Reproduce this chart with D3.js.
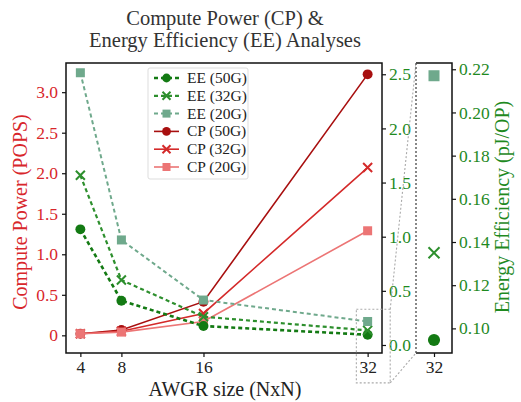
<!DOCTYPE html>
<html>
<head>
<meta charset="utf-8">
<script src="https://cdn.jsdelivr.net/npm/d3@7"></script>
<style>
  html, body { margin: 0; padding: 0; background: #fff; }
  svg { display: block; font-family: "Liberation Serif", "DejaVu Serif", serif; }
</style>
</head>
<body>
<svg id="chart" width="521" height="402"></svg>
<script>
// AWGR sizes (N for an NxN router)
const sizes = [4, 8, 16, 32];

// Compute power in POPS, per line rate
const cp50 = [0.02, 0.065, 0.415, 3.22];
const cp32 = [0.02, 0.05, 0.27, 2.07];
const cp20 = [0.02, 0.04, 0.17, 1.29];

// Energy efficiency in pJ/OP, per line rate
const ee50 = [1.068, 0.409, 0.175, 0.0946];
const ee32 = [1.567, 0.600, 0.261, 0.135];
const ee20 = [2.514, 0.970, 0.415, 0.217];

const cpTicks = [0, 0.5, 1.0, 1.5, 2.0, 2.5, 3.0];
const cpTickLabels = ["0", "0.5", "1.0", "1.5", "2.0", "2.5", "3.0"];
const eeTicks = [0, 0.5, 1.0, 1.5, 2.0, 2.5];
const insetTicks = [0.10, 0.12, 0.14, 0.16, 0.18, 0.20, 0.22];

const titleLines = ["Compute Power (CP) &", "Energy Efficiency (EE) Analyses"];

const svg = d3.select("#chart");

// Panel geometry
const L = 66, R = 382, T = 63, B = 353;
const IL = 416, IR = 452;

const x = d3.scaleLinear().domain([2.6, 33.4]).range([L, R]);
const yCP = d3.scaleLinear().domain([-0.218, 3.36]).range([B, T]);
const yEE = d3.scaleLinear().domain([-0.074, 2.604]).range([B, T]);
const xIn = d3.scaleLinear().domain([31, 33]).range([IL, IR]);
const yIn = d3.scaleLinear().domain([0.0886, 0.2229]).range([B, T]);

const red = "#d8262b", green = "#1f8a1f";

const series = [
  { name: "EE (50G)", vals: ee50, color: "#137a13", marker: "circle", dash: "4,3", width: 2.6, kind: "ee" },
  { name: "EE (32G)", vals: ee32, color: "#2d8f2d", marker: "x", dash: "4,3", width: 2.2, kind: "ee" },
  { name: "EE (20G)", vals: ee20, color: "#6fa98c", marker: "square", dash: "4,3", width: 2.0, kind: "ee" },
  { name: "CP (50G)", vals: cp50, color: "#a80f0f", marker: "circle", dash: null, width: 1.6, kind: "cp" },
  { name: "CP (32G)", vals: cp32, color: "#d42a2a", marker: "x", dash: null, width: 1.6, kind: "cp" },
  { name: "CP (20G)", vals: cp20, color: "#ec7575", marker: "square", dash: null, width: 1.6, kind: "cp" }
];

function drawMarker(g, type, cx, cy, color, size) {
  if (type === "circle") {
    g.append("circle").attr("cx", cx).attr("cy", cy).attr("r", size * 0.55).attr("fill", color);
  } else if (type === "square") {
    const s = size;
    g.append("rect").attr("x", cx - s / 2).attr("y", cy - s / 2).attr("width", s).attr("height", s).attr("fill", color);
  } else {
    const s = size * 0.5;
    g.append("path")
      .attr("d", `M${cx - s},${cy - s}L${cx + s},${cy + s}M${cx - s},${cy + s}L${cx + s},${cy - s}`)
      .attr("stroke", color).attr("stroke-width", 2).attr("fill", "none");
  }
}

// Title
svg.append("g").selectAll("text").data(titleLines).join("text")
  .attr("x", 225).attr("y", (d, i) => 25 + i * 22)
  .attr("text-anchor", "middle").attr("font-size", 20.5).attr("fill", "#333")
  .text(d => d);

// Main plot lines (CP first, EE twin axis drawn on top)
const plot = svg.append("g");
const order = [3, 4, 5, 0, 1, 2];
order.forEach(i => {
  const s = series[i];
  const yS = s.kind === "cp" ? yCP : yEE;
  const line = d3.line().x((d, j) => x(sizes[j])).y(d => yS(d));
  plot.append("path").datum(s.vals).attr("d", line)
    .attr("fill", "none").attr("stroke", s.color).attr("stroke-width", s.width)
    .attr("stroke-dasharray", s.dash);
  const mg = plot.append("g");
  s.vals.forEach((v, j) => drawMarker(mg, s.marker, x(sizes[j]), yS(v), s.color, 9));
});

// Main frame
svg.append("rect").attr("x", L).attr("y", T).attr("width", R - L).attr("height", B - T)
  .attr("fill", "none").attr("stroke", "#111").attr("stroke-width", 1.5);

// Axes
const fs = 17.5;
const xAxis = svg.append("g").attr("transform", `translate(0,${B})`)
  .call(d3.axisBottom(x).tickValues(sizes).tickSize(4).tickPadding(4).tickFormat(d3.format("d")));
const yAxisL = svg.append("g").attr("transform", `translate(${L},0)`)
  .call(d3.axisLeft(yCP).tickValues(cpTicks).tickSize(4).tickPadding(4).tickFormat((d, i) => cpTickLabels[i]));
const yAxisR = svg.append("g").attr("transform", `translate(${R},0)`)
  .call(d3.axisRight(yEE).tickValues(eeTicks).tickSize(4).tickPadding(3).tickFormat(d3.format(".1f")));

[xAxis, yAxisL, yAxisR].forEach(a => {
  a.select(".domain").remove();
  a.selectAll("line").attr("stroke", "#111").attr("stroke-width", 1.2);
  a.selectAll("text").attr("font-family", "Liberation Serif, serif").attr("font-size", fs);
});
xAxis.selectAll("text").attr("fill", "#222");
yAxisL.selectAll("text").attr("fill", red);
yAxisR.selectAll("text").attr("fill", green);

// Axis titles
svg.append("text").attr("x", 225).attr("y", 396).attr("text-anchor", "middle")
  .attr("font-size", 20).attr("fill", "#222").text("AWGR size (NxN)");
svg.append("text").attr("transform", "translate(27,212) rotate(-90)").attr("text-anchor", "middle")
  .attr("font-size", 20).attr("fill", red).text("Compute Power (POPS)");
svg.append("text").attr("transform", "translate(509,207) rotate(-90)").attr("text-anchor", "middle")
  .attr("font-size", 20).attr("fill", green).text("Energy Efficiency (pJ/OP)");

// Zoom indicator box around the N=32 EE points
const zx0 = x(30.9), zx1 = x(34.2), zy0 = yEE(0.33), zy1 = yEE(-0.35);
const dotted = { stroke: "#aaa", "stroke-width": 1.1, "stroke-dasharray": "2,2", fill: "none" };
const zoomBox = svg.append("g");
const zr = zoomBox.append("rect").attr("x", zx0).attr("y", zy0).attr("width", zx1 - zx0).attr("height", zy1 - zy0);
Object.entries(dotted).forEach(([k, v]) => zr.attr(k, v));
[[zx1, zy0, IL, T], [zx1, zy1, IL, B]].forEach(c => {
  const l = zoomBox.append("line").attr("x1", c[0]).attr("y1", c[1]).attr("x2", c[2]).attr("y2", c[3]);
  Object.entries(dotted).forEach(([k, v]) => l.attr(k, v));
});

// Inset: EE at N=32 on a magnified scale
const inset = svg.append("g");
inset.append("rect").attr("x", IL).attr("y", T).attr("width", IR - IL).attr("height", B - T).attr("fill", "#fff");
[[ee50, "circle", "#137a13"], [ee32, "x", "#2d8f2d"], [ee20, "square", "#6fa98c"]].forEach(([vals, m, c]) => {
  drawMarker(inset, m, xIn(32), yIn(vals[3]), c, 11);
});
inset.append("path").attr("d", `M${IL},${T}H${IR}V${B}H${IL}`)
  .attr("fill", "none").attr("stroke", "#111").attr("stroke-width", 1.5);
inset.append("line").attr("x1", IL).attr("y1", T).attr("x2", IL).attr("y2", B)
  .attr("stroke", "#555").attr("stroke-width", 1.4).attr("stroke-dasharray", "2,2");

const inX = svg.append("g").attr("transform", `translate(0,${B})`)
  .call(d3.axisBottom(xIn).tickValues([32]).tickSize(4).tickPadding(4).tickFormat(d3.format("d")));
const inY = svg.append("g").attr("transform", `translate(${IR},0)`)
  .call(d3.axisRight(yIn).tickValues(insetTicks).tickSize(4).tickPadding(3).tickFormat(d3.format(".2f")));
[inX, inY].forEach(a => {
  a.select(".domain").remove();
  a.selectAll("line").attr("stroke", "#111").attr("stroke-width", 1.2);
  a.selectAll("text").attr("font-family", "Liberation Serif, serif").attr("font-size", fs);
});
inX.selectAll("text").attr("fill", "#222");
inY.selectAll("text").attr("fill", green);

// Legend
const lg = svg.append("g").attr("transform", "translate(148,68)");
lg.append("rect").attr("width", 100).attr("height", 111).attr("rx", 2)
  .attr("fill", "#fff").attr("fill-opacity", 0.85).attr("stroke", "#ddd");
series.forEach((s, i) => {
  const cy = 10 + i * 17.8;
  const row = lg.append("g");
  row.append("line").attr("x1", 6).attr("x2", 31).attr("y1", cy).attr("y2", cy)
    .attr("stroke", s.color).attr("stroke-width", s.width).attr("stroke-dasharray", s.dash);
  drawMarker(row, s.marker, 18.5, cy, s.color, 8);
  row.append("text").attr("x", 39).attr("y", cy + 5).attr("font-size", 15.5).attr("fill", "#222").text(s.name);
});
</script>
</body>
</html>
